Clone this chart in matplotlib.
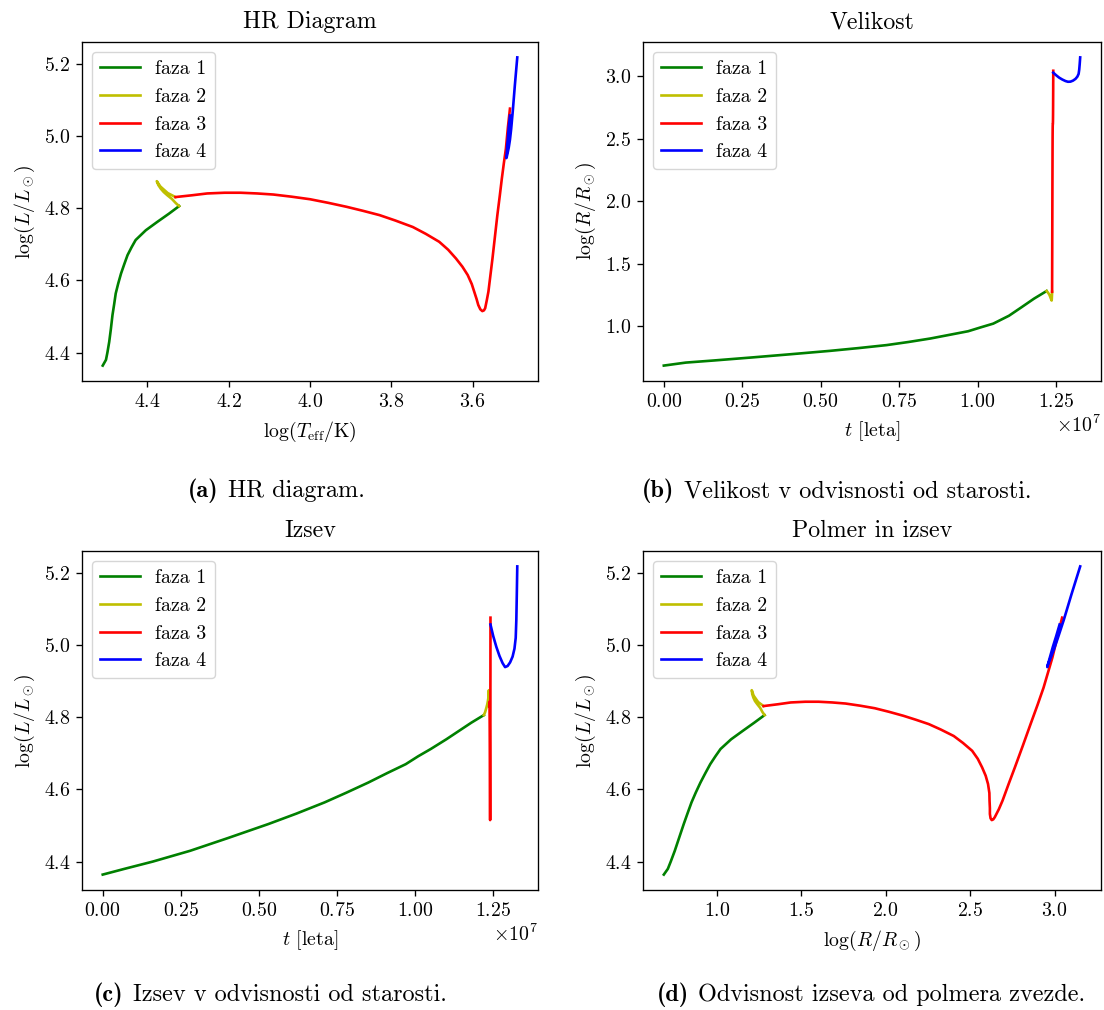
import numpy as np
import matplotlib
matplotlib.use("Agg")
import matplotlib.pyplot as plt
from matplotlib.ticker import MultipleLocator
from matplotlib.offsetbox import TextArea, HPacker, AnchoredOffsetbox

plt.rcParams['font.family'] = 'serif'
plt.rcParams['font.serif'] = ['cmr10']
plt.rcParams['mathtext.fontset'] = 'cm'
plt.rcParams['axes.formatter.use_mathtext'] = True
plt.rcParams['axes.unicode_minus'] = False

# faza 1, cas v enotah 1e7 let
t1 = [0.0, 0.07, 0.16, 0.28, 0.40, 0.53, 0.62, 0.71, 0.78, 0.85, 0.91, 0.97, 1.01, 1.05, 1.10, 1.14, 1.18, 1.22]
logT1 = [4.510, 4.502, 4.4985, 4.494, 4.490, 4.486, 4.482, 4.478, 4.472, 4.465, 4.457, 4.449, 4.439, 4.429, 4.404, 4.376, 4.347, 4.322]
logL1 = [4.364, 4.380, 4.400, 4.430, 4.465, 4.504, 4.533, 4.564, 4.591, 4.619, 4.645, 4.670, 4.692, 4.712, 4.739, 4.762, 4.785, 4.806]
logR1 = [0.685, 0.709, 0.726, 0.750, 0.775, 0.803, 0.825, 0.849, 0.874, 0.902, 0.931, 0.960, 0.991, 1.021, 1.084, 1.152, 1.221, 1.282]

# faza 2
t2 = [1.220, 1.224, 1.228, 1.231, 1.233, 1.2345, 1.2355, 1.236, 1.2365, 1.237, 1.2375]
logT2 = [4.322, 4.330, 4.340, 4.351, 4.360, 4.367, 4.373, 4.377, 4.368, 4.350, 4.331]
logL2 = [4.806, 4.814, 4.826, 4.836, 4.845, 4.854, 4.864, 4.875, 4.860, 4.842, 4.831]
logR2 = [1.282, 1.270, 1.256, 1.239, 1.225, 1.216, 1.209, 1.206, 1.217, 1.244, 1.276]

# faza 3
t3 = [1.2375, 1.2376, 1.2377, 1.2378, 1.2379, 1.2380, 1.2381, 1.2382, 1.2383, 1.2384,
      1.2385, 1.2386, 1.2387, 1.2388, 1.2389, 1.2390, 1.2391, 1.2392, 1.2393, 1.2394,
      1.2395, 1.2396, 1.2397, 1.2398, 1.2399, 1.2400, 1.2401, 1.2402, 1.2403, 1.2404,
      1.2405, 1.2406, 1.2407, 1.2408, 1.2409, 1.2410, 1.2410, 1.2411, 1.2411, 1.2412, 1.2412]
logT3 = [4.331, 4.290, 4.253, 4.210, 4.171, 4.130, 4.090, 4.045, 4.000, 3.955,
         3.910, 3.870, 3.829, 3.790, 3.747, 3.715, 3.682, 3.660, 3.641, 3.625,
         3.612, 3.602, 3.596, 3.590, 3.586, 3.581, 3.576, 3.572, 3.569, 3.565,
         3.561, 3.556, 3.551, 3.545, 3.539, 3.533, 3.528, 3.523, 3.518, 3.513, 3.508]
logL3 = [4.831, 4.836, 4.841, 4.843, 4.843, 4.841, 4.838, 4.832, 4.825, 4.815,
         4.804, 4.793, 4.781, 4.766, 4.748, 4.729, 4.707, 4.685, 4.661, 4.638,
         4.615, 4.590, 4.569, 4.548, 4.532, 4.520, 4.515, 4.517, 4.523, 4.545,
         4.569, 4.615, 4.661, 4.721, 4.781, 4.835, 4.882, 4.925, 4.965, 5.025, 5.076]
logR3 = [1.276, 1.361, 1.437, 1.524, 1.602, 1.683, 1.762, 1.849, 1.935, 2.020,
         2.105, 2.179, 2.255, 2.326, 2.403, 2.457, 2.512, 2.545, 2.571, 2.592,
         2.606, 2.614, 2.615, 2.617, 2.617, 2.621, 2.628, 2.637, 2.646, 2.670,
         2.692, 2.728, 2.765, 2.812, 2.858, 2.900, 2.935, 2.962, 2.987, 3.018, 3.045]

# faza 4
t4 = [1.2412, 1.250, 1.260, 1.270, 1.280, 1.288, 1.296, 1.304, 1.312, 1.318, 1.322, 1.324, 1.3255, 1.327]
logT4 = [3.508, 3.511, 3.513, 3.515, 3.516, 3.517, 3.516, 3.514, 3.511, 3.508, 3.505, 3.501, 3.496, 3.490]
logL4 = [5.057, 5.025, 4.995, 4.970, 4.950, 4.939, 4.942, 4.952, 4.968, 4.990, 5.020, 5.070, 5.140, 5.218]
logR4 = [3.030, 3.010, 2.990, 2.975, 2.963, 2.957, 2.958, 2.966, 2.980, 2.998, 3.020, 3.055, 3.100, 3.152]

faze = [
    ("faza 1", 'g', t1, logT1, logL1, logR1),
    ("faza 2", 'y', t2, logT2, logL2, logR2),
    ("faza 3", 'r', t3, logT3, logL3, logR3),
    ("faza 4", 'b', t4, logT4, logL4, logR4),
]

W, H = 1104, 1010
fig = plt.figure(figsize=(W / 100, H / 100), dpi=100)

def box(l, r, t, b):
    return [l / W, 1 - b / H, (r - l) / W, (b - t) / H]

ax_a = fig.add_axes(box(82, 538, 42, 381))
ax_b = fig.add_axes(box(643, 1101, 42, 381))
ax_c = fig.add_axes(box(82, 538, 551, 890))
ax_d = fig.add_axes(box(643, 1101, 551, 890))

for label, c, t, lT, lL, lR in faze:
    ax_a.plot(lT, lL, color=c, lw=1.9, label=label)
    ax_b.plot(np.array(t) * 1e7, lR, color=c, lw=1.9, label=label)
    ax_c.plot(np.array(t) * 1e7, lL, color=c, lw=1.9, label=label)
    ax_d.plot(lR, lL, color=c, lw=1.9, label=label)

ax_a.invert_xaxis()
ax_b.xaxis.set_major_locator(MultipleLocator(0.25e7))
ax_c.xaxis.set_major_locator(MultipleLocator(0.25e7))

fs = 14.3
naslovi = ["HR Diagram", "Velikost", "Izsev", "Polmer in izsev"]
xoznake = [r"$\log(T_\mathrm{eff}/\mathrm{K})$", r"$t$ [leta]", r"$t$ [leta]", r"$\log(R/R_\odot)$"]
yoznake = [r"$\log(L/L_\odot)$", r"$\log(R/R_\odot)$", r"$\log(L/L_\odot)$", r"$\log(L/L_\odot)$"]

for ax, nas, xl, yl in zip((ax_a, ax_b, ax_c, ax_d), naslovi, xoznake, yoznake):
    ax.set_title(nas, fontsize=17.2, pad=10)
    ax.set_xlabel(xl, fontsize=fs, labelpad=6.5)
    ax.set_ylabel(yl, fontsize=fs, labelpad=4.8)
    ax.tick_params(labelsize=fs, length=4.2, width=0.96, pad=4.2)
    for s in ax.spines.values():
        s.set_linewidth(0.96)
    ax.xaxis.get_offset_text().set_fontsize(fs)
    ax.legend(loc='upper left', fontsize=fs)

# podnapisi
def podnapis(x, y, oznaka, besedilo):
    a = TextArea(oznaka, textprops=dict(family='cmb10', size=17.5))
    b = TextArea(besedilo, textprops=dict(size=17.5))
    vrsta = HPacker(children=[a, b], align='baseline', pad=0, sep=7)
    anch = AnchoredOffsetbox(loc='center', child=vrsta, pad=0, borderpad=0, frameon=False,
                             bbox_to_anchor=(x / W, 1 - y / H), bbox_transform=fig.transFigure)
    fig.add_artist(anch)

podnapis(276, 491, "(a)", "HR diagram.")
podnapis(837, 491, "(b)", "Velikost v odvisnosti od starosti.")
podnapis(270, 995, "(c)", "Izsev v odvisnosti od starosti.")
podnapis(871, 995, "(d)", "Odvisnost izseva od polmera zvezde.")

plt.savefig("out.png", dpi=100)
